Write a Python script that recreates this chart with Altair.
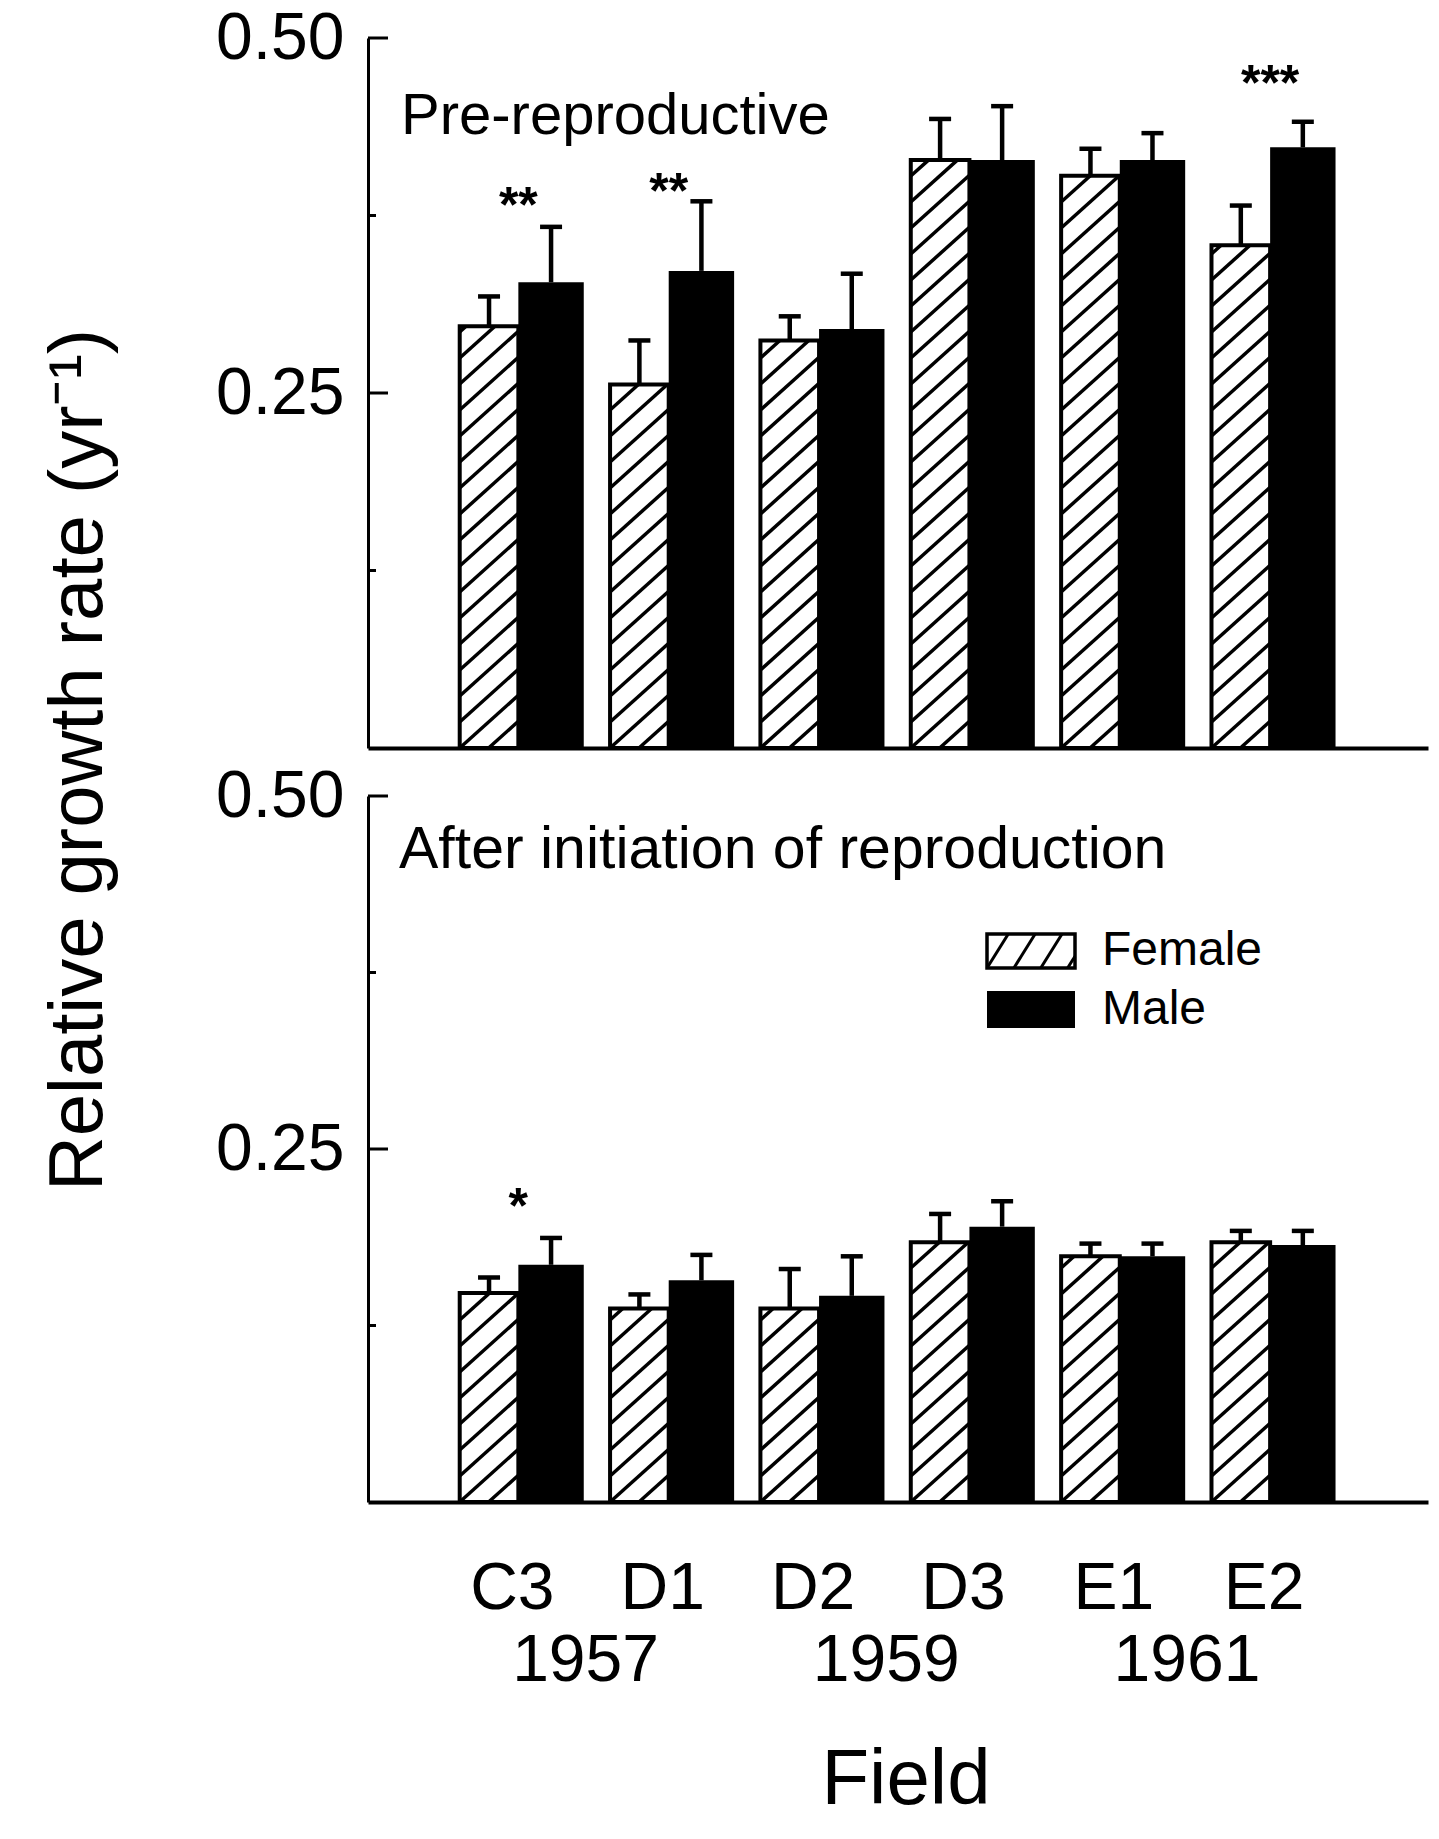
import math
import altair as alt
import pandas as pd

# ---------------- data ----------------
fields = ["C3", "D1", "D2", "D3", "E1", "E2"]
field_years = ["1957", "1957", "1959", "1959", "1961", "1961"]

pre_female = [0.297, 0.256, 0.287, 0.414, 0.403, 0.354]
pre_female_err = [0.021, 0.031, 0.017, 0.029, 0.019, 0.028]
pre_male = [0.328, 0.336, 0.295, 0.414, 0.414, 0.423]
pre_male_err = [0.039, 0.049, 0.039, 0.038, 0.019, 0.018]

post_female = [0.148, 0.137, 0.137, 0.184, 0.174, 0.184]
post_female_err = [0.011, 0.010, 0.028, 0.020, 0.009, 0.008]
post_male = [0.168, 0.157, 0.146, 0.195, 0.174, 0.182]
post_male_err = [0.019, 0.018, 0.028, 0.018, 0.009, 0.010]

pre_sig_fields = ["C3", "D1", "E2"]
pre_sig_labels = ["**", "**", "***"]
pre_sig_y = [0.390, 0.400, 0.476]
post_sig_fields = ["C3"]
post_sig_labels = ["*"]
post_sig_y = [0.2175]

y_ticks_major = [0.25, 0.50]
y_ticks_minor = [0.125, 0.375]

sexes = ["Female", "Male"]
panel_titles = ["Pre-reproductive", "After initiation of reproduction"]
x_title = "Field"
y_title = "Relative growth rate (yr\u207b\u00b9)"

# ---------------- layout / style constants ----------------
FONT = "Liberation Sans"
W = 1060
H_TOP = 710
H_BOT = 706
SPACING = 48
X_MIN, X_MAX = -1.0, 6.05
Y_MAX = 0.5
F_W = 0.39     # female bar width (category units)
M_W = 0.435    # male bar width
CAP_HALF = 11  # px
HATCH_SLOPE = 0.9
HATCH_SPACING = 26.0
HATCH_W = 3.5
LINE_W = 4.5

xs = alt.Scale(domain=[X_MIN, X_MAX], nice=False, zero=False)
x_axis = alt.Axis(title=None, labels=False, ticks=False, grid=False, domain=True,
                  domainColor="black", domainWidth=4)


def y_scale():
    return alt.Scale(domain=[0, Y_MAX], nice=False, zero=True)


y_axis = alt.Axis(title=None, values=y_ticks_major, format=".2f", labelFont=FONT,
                  labelFontSize=66, labelColor="black", labelPadding=24, ticks=False,
                  grid=False, domain=True, domainColor="black", domainWidth=3)


def hatch_lines(w, h, slope, spacing):
    """Diagonal lines clipped to a w x h box (local px, y upward)."""
    segs = []
    k_min = -int(math.ceil(slope * w / spacing)) - 1
    k_max = int(math.ceil(h / spacing)) + 1
    for k in range(k_min, k_max + 1):
        c = k * spacing
        xa = max(0.0, -c / slope)
        xb = min(w, (h - c) / slope)
        if xb - xa > 0.8:
            segs.append((xa, c + slope * xa, xb, c + slope * xb))
    return segs


def panel(female, female_err, male, male_err, sig_fields, sig_labels, sig_y,
          height, title, title_size, title_x, title_base, is_bottom):
    px_x = W / (X_MAX - X_MIN)
    px_y = height / Y_MAX
    ys = y_scale()

    rows = []
    for i, f in enumerate(fields):
        rows.append(dict(field=f, idx=i, sex=sexes[0], x0=i - F_W, x1=i, xc=i - F_W / 2,
                         value=female[i], top=female[i] + female_err[i]))
        rows.append(dict(field=f, idx=i, sex=sexes[1], x0=i, x1=i + M_W, xc=i + M_W / 2,
                         value=male[i], top=male[i] + male_err[i]))
    df = pd.DataFrame(rows)
    df["cap_l"] = df["xc"] - CAP_HALF / px_x
    df["cap_r"] = df["xc"] + CAP_HALF / px_x
    df_f = df[df.sex == sexes[0]]
    df_m = df[df.sex == sexes[1]]

    hrows = []
    for _, r in df_f.iterrows():
        wpx = (r.x1 - r.x0) * px_x
        hpx = r.value * px_y
        for (xa, ya, xb, yb) in hatch_lines(wpx, hpx, HATCH_SLOPE, HATCH_SPACING):
            hrows.append(dict(hx=r.x0 + xa / px_x, hx2=r.x0 + xb / px_x,
                              hy=ya / px_y, hy2=yb / px_y))
    df_h = pd.DataFrame(hrows)

    X = lambda f: alt.X(f, scale=xs, axis=x_axis)
    Y = lambda f: alt.Y(f, scale=ys, axis=y_axis)

    layers = []
    layers.append(alt.Chart(df_f).mark_rect(fill="white").encode(
        x=X("x0:Q"), x2="x1:Q", y=Y("value:Q"), y2=alt.datum(0)))
    layers.append(alt.Chart(df_h).mark_rule(color="black", strokeWidth=HATCH_W, strokeCap="butt").encode(
        x=X("hx:Q"), x2="hx2:Q", y=Y("hy:Q"), y2="hy2:Q"))
    layers.append(alt.Chart(df_f).mark_rect(fillOpacity=0, stroke="black", strokeWidth=4).encode(
        x=X("x0:Q"), x2="x1:Q", y=Y("value:Q"), y2=alt.datum(0)))
    layers.append(alt.Chart(df_m).mark_rect(color="black").encode(
        x=X("x0:Q"), x2="x1:Q", y=Y("value:Q"), y2=alt.datum(0)))
    layers.append(alt.Chart(df).mark_rule(color="black", strokeWidth=LINE_W).encode(
        x=X("xc:Q"), y=Y("value:Q"), y2="top:Q"))
    layers.append(alt.Chart(df).mark_rule(color="black", strokeWidth=LINE_W).encode(
        x=X("cap_l:Q"), x2="cap_r:Q", y=Y("top:Q")))

    # significance stars
    df_s = pd.DataFrame(dict(field=sig_fields, label=sig_labels, sy=sig_y,
                             idx=[fields.index(f) for f in sig_fields]))
    layers.append(alt.Chart(df_s).mark_text(font=FONT, fontSize=50, fontWeight="bold", color="black",
                                            baseline="alphabetic", align="center", dy=28).encode(
        x=X("idx:Q"), y=Y("sy:Q"), text="label:N"))

    # inward y ticks
    layers.append(alt.Chart(pd.DataFrame({"v": y_ticks_major})).mark_rule(
        color="black", strokeWidth=3).encode(y=Y("v:Q"), x=alt.value(0), x2=alt.value(20)))
    layers.append(alt.Chart(pd.DataFrame({"v": y_ticks_minor})).mark_rule(
        color="black", strokeWidth=3).encode(y=Y("v:Q"), x=alt.value(0), x2=alt.value(8)))

    # panel title
    layers.append(alt.Chart(pd.DataFrame({"t": [title]})).mark_text(
        font=FONT, fontSize=title_size, color="black", align="left", baseline="alphabetic").encode(
        x=alt.value(title_x), y=alt.value(title_base), text="t:N"))

    if not is_bottom:
        layers.append(alt.Chart(pd.DataFrame({"t": [y_title]})).mark_text(
            font=FONT, fontSize=76, color="black", align="center", baseline="alphabetic",
            angle=270).encode(x=alt.value(-266), y=alt.value(722), text="t:N"))
    else:
        # legend (pixel offsets converted to data units)
        def dx(p):
            return X_MIN + p / px_x

        def dy_(p):
            return Y_MAX - p / px_y

        lx0, lx1 = 619, 707
        fy0, fy1 = 138, 172
        my0, my1 = 195, 232
        df_lbox = pd.DataFrame(dict(sex=sexes, a=[dx(lx0)] * 2, b=[dx(lx1)] * 2,
                                    c=[dy_(fy1), dy_(my1)], d=[dy_(fy0), dy_(my0)],
                                    tx=[dx(734)] * 2, ty=[dy_((fy0 + fy1) / 2), dy_((my0 + my1) / 2)]))
        lh = []
        for (xa, ya, xb, yb) in hatch_lines(lx1 - lx0, fy1 - fy0, 1.6, 43):
            lh.append(dict(hx=dx(lx0 + xa), hx2=dx(lx0 + xb), hy=dy_(fy1 - ya), hy2=dy_(fy1 - yb)))
        df_lh = pd.DataFrame(lh)
        lf = df_lbox[df_lbox.sex == sexes[0]]
        lm = df_lbox[df_lbox.sex == sexes[1]]
        layers.append(alt.Chart(lf).mark_rect(fill="white", stroke="black", strokeWidth=3.5).encode(
            x=X("a:Q"), x2="b:Q", y=Y("c:Q"), y2="d:Q"))
        layers.append(alt.Chart(df_lh).mark_rule(color="black", strokeWidth=3).encode(
            x=X("hx:Q"), x2="hx2:Q", y=Y("hy:Q"), y2="hy2:Q"))
        layers.append(alt.Chart(lm).mark_rect(color="black").encode(
            x=X("a:Q"), x2="b:Q", y=Y("c:Q"), y2="d:Q"))
        layers.append(alt.Chart(df_lbox).mark_text(font=FONT, fontSize=48, color="black",
                                                   align="left", baseline="middle").encode(
            x=X("tx:Q"), y=Y("ty:Q"), text="sex:N"))

        # category labels, years, x title below the panel
        df_c = pd.DataFrame(dict(field=fields, idx=list(range(len(fields)))))
        layers.append(alt.Chart(df_c).mark_text(font=FONT, fontSize=66, color="black",
                                                align="center", baseline="alphabetic", dx=-6).encode(
            x=X("idx:Q"), y=alt.value(813), text="field:N"))
        df_y = pd.DataFrame(dict(year=field_years, idx=list(range(len(fields)))))
        df_y = df_y.groupby("year", as_index=False)["idx"].mean()
        layers.append(alt.Chart(df_y).mark_text(font=FONT, fontSize=66, color="black",
                                                align="center", baseline="alphabetic", dx=-8).encode(
            x=X("idx:Q"), y=alt.value(885), text="year:N"))
        layers.append(alt.Chart(pd.DataFrame({"t": [x_title]})).mark_text(
            font=FONT, fontSize=78, color="black", align="center", baseline="alphabetic").encode(
            x=alt.value(W / 2 + 8), y=alt.value(1008), text="t:N"))

    return alt.layer(*layers).properties(width=W, height=height)


top = panel(pre_female, pre_female_err, pre_male, pre_male_err,
            pre_sig_fields, pre_sig_labels, pre_sig_y,
            H_TOP, panel_titles[0], 58, 33, 96, False)
bottom = panel(post_female, post_female_err, post_male, post_male_err,
               post_sig_fields, post_sig_labels, post_sig_y,
               H_BOT, panel_titles[1], 59, 31, 72, True)

chart = alt.vconcat(top, bottom, spacing=SPACING, bounds="flush").properties(
    padding={"left": 41, "top": 5, "right": 5, "bottom": 5},
    background="white",
).configure_view(stroke=None)

chart.save("out.html", embed_options={"renderer": "svg", "actions": False})
